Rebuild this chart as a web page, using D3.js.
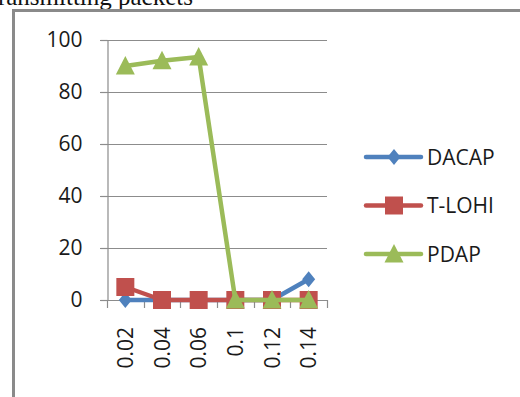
<!DOCTYPE html>
<html>
<head>
<meta charset="utf-8">
<script src="https://cdn.jsdelivr.net/npm/d3@7"></script>
<style>
  html, body { margin: 0; padding: 0; background: #fff; }
  svg { display: block; }
</style>
</head>
<body>
<svg id="chart" width="520" height="397"></svg>
<script>
// Data: x categories, one value list per protocol
const categories = ["0.02", "0.04", "0.06", "0.1", "0.12", "0.14"];
const dacap = [0, 0, 0, 0, 0, 8];
const tlohi = [5, 0, 0, 0, 0, 0];
const pdap = [90, 92, 93.5, 0, 0, 0];
const seriesNames = ["DACAP", "T-LOHI", "PDAP"];
const yTicks = [0, 20, 40, 60, 80, 100];

const series = [
  { name: seriesNames[0], values: dacap, color: "#4F81BD", marker: "diamond" },
  { name: seriesNames[1], values: tlohi, color: "#C0504D", marker: "square" },
  { name: seriesNames[2], values: pdap, color: "#9BBB59", marker: "triangle" }
];

const svg = d3.select("#chart");
const font = "'Open Sans', 'Liberation Sans', sans-serif";
const gridColor = "#8c8c8c";

// Caption text above the frame, partly cut by the top edge
svg.append("text")
  .attr("x", 193).attr("y", 5)
  .attr("text-anchor", "end")
  .attr("font-family", "'Liberation Serif', 'Times New Roman', serif")
  .attr("font-size", 25)
  .attr("fill", "#111")
  .text("Transmitting packets");

// Outer frame (left and top edges)
svg.append("path")
  .attr("d", "M13.5,397 L13.5,10.5 L520,10.5")
  .attr("fill", "none")
  .attr("stroke", "#8a8a8a")
  .attr("stroke-width", 3);

const plotLeft = 107, plotRight = 327, plotTop = 40, plotBottom = 300;

const x = d3.scaleBand().domain(categories).range([plotLeft, plotRight]).padding(0);
const y = d3.scaleLinear().domain([0, 100]).range([plotBottom, plotTop]);

// Horizontal gridlines
svg.append("g")
  .selectAll("line")
  .data(yTicks.filter(d => d > 0))
  .join("line")
  .attr("x1", plotLeft - 7).attr("x2", plotRight)
  .attr("y1", d => Math.round(y(d)) + 0.5).attr("y2", d => Math.round(y(d)) + 0.5)
  .attr("stroke", gridColor).attr("stroke-width", 1.2);

// Y axis
const yAxis = svg.append("g")
  .attr("transform", `translate(${plotLeft + 0.5},0)`)
  .call(d3.axisLeft(y).tickValues(yTicks).tickSize(7).tickPadding(18));
yAxis.select(".domain").attr("stroke", gridColor).attr("stroke-width", 1.2);
yAxis.selectAll(".tick line").attr("stroke", gridColor).attr("stroke-width", 1.2);
yAxis.selectAll(".tick text")
  .attr("font-family", font).attr("font-size", 21).attr("fill", "#1a1a1a");

// X axis line with tick marks between categories
const xAxisG = svg.append("g");
xAxisG.append("line")
  .attr("x1", plotLeft - 7).attr("x2", plotRight)
  .attr("y1", plotBottom + 0.5).attr("y2", plotBottom + 0.5)
  .attr("stroke", gridColor).attr("stroke-width", 1.2);
const boundaries = categories.map(c => x(c)).concat([x(categories[categories.length - 1]) + x.bandwidth()]);
xAxisG.selectAll("line.tick")
  .data(boundaries)
  .join("line")
  .attr("class", "tick")
  .attr("x1", d => Math.round(d) + 0.5).attr("x2", d => Math.round(d) + 0.5)
  .attr("y1", plotBottom).attr("y2", plotBottom + 8)
  .attr("stroke", gridColor).attr("stroke-width", 1.2);

// Rotated category labels
xAxisG.selectAll("text")
  .data(categories)
  .join("text")
  .attr("transform", d => `translate(${x(d) + x.bandwidth() / 2},${plotBottom + 27}) rotate(-90)`)
  .attr("dy", "0.36em")
  .attr("text-anchor", "end")
  .attr("font-family", font).attr("font-size", 21).attr("fill", "#1a1a1a")
  .text(d => d);

// Marker shapes
function markerPath(type) {
  if (type === "diamond") return "M0,-8 L6.5,0 L0,8 L-6.5,0 Z";
  if (type === "square") return "M-9,-9 L9,-9 L9,9 L-9,9 Z";
  return "M0,-10 L9.5,8.5 L-9.5,8.5 Z";
}

const line = d3.line()
  .x((d, i) => x(categories[i]) + x.bandwidth() / 2)
  .y(d => y(d));

series.forEach(s => {
  const g = svg.append("g");
  g.append("path")
    .attr("d", line(s.values))
    .attr("fill", "none")
    .attr("stroke", s.color)
    .attr("stroke-width", 4.5)
    .attr("stroke-linejoin", "round");
  g.selectAll("path.marker")
    .data(s.values)
    .join("path")
    .attr("class", "marker")
    .attr("d", markerPath(s.marker))
    .attr("transform", (d, i) => `translate(${x(categories[i]) + x.bandwidth() / 2},${y(d)})`)
    .attr("fill", s.color);
});

// Legend
const legendY = d3.scalePoint().domain(seriesNames).range([157, 254]);
const legend = svg.append("g");
series.forEach(s => {
  const ly = legendY(s.name);
  legend.append("line")
    .attr("x1", 366).attr("x2", 421)
    .attr("y1", ly).attr("y2", ly)
    .attr("stroke", s.color).attr("stroke-width", 4.5)
    .attr("stroke-linecap", "round");
  legend.append("path")
    .attr("d", markerPath(s.marker))
    .attr("transform", `translate(394,${ly})`)
    .attr("fill", s.color);
  legend.append("text")
    .attr("x", 427).attr("y", ly)
    .attr("dy", "0.36em")
    .attr("font-family", font).attr("font-size", 21).attr("fill", "#1a1a1a")
    .text(s.name);
});
</script>
</body>
</html>
